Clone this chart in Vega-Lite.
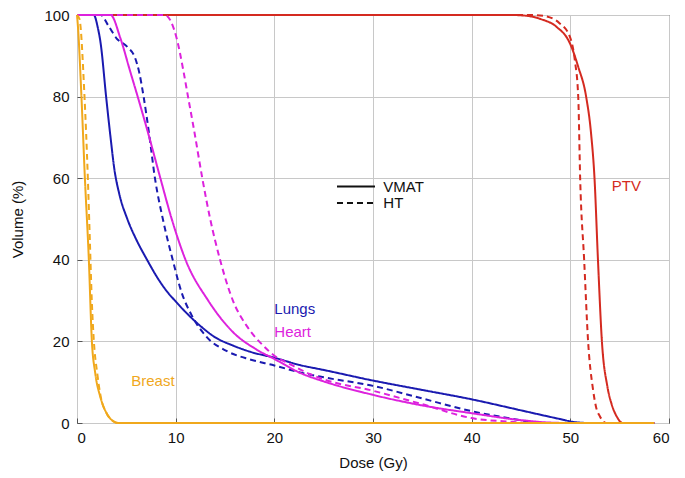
{
  "$schema": "https://vega.github.io/schema/vega-lite/v6.json",
  "width": 592,
  "height": 408,
  "autosize": {"type": "none"},
  "padding": {"left": 77, "top": 15, "right": 16, "bottom": 55},
  "background": "white",
  "config": {
    "font": "Liberation Sans",
    "view": {"stroke": "#222222", "strokeWidth": 1},
    "axis": {
      "grid": true,
      "gridColor": "#c8c8c8",
      "gridWidth": 1,
      "domain": false,
      "ticks": true,
      "tickSize": -5,
      "tickColor": "#555555",
      "labelFontSize": 15,
      "labelColor": "#111111",
      "titleFontSize": 15,
      "titleFontWeight": "normal",
      "titleColor": "#111111"
    }
  },
  "datasets": {
    "dvh": [
      {"organ": "PTV", "plan": "VMAT", "dose": 0, "volume": 100},
      {"organ": "PTV", "plan": "VMAT", "dose": 44, "volume": 100},
      {"organ": "PTV", "plan": "VMAT", "dose": 45.6, "volume": 99.8},
      {"organ": "PTV", "plan": "VMAT", "dose": 47, "volume": 99},
      {"organ": "PTV", "plan": "VMAT", "dose": 48.6, "volume": 97.1},
      {"organ": "PTV", "plan": "VMAT", "dose": 49.95, "volume": 93.1},
      {"organ": "PTV", "plan": "VMAT", "dose": 50.8, "volume": 87.3},
      {"organ": "PTV", "plan": "VMAT", "dose": 51.6, "volume": 80},
      {"organ": "PTV", "plan": "VMAT", "dose": 52.1, "volume": 71},
      {"organ": "PTV", "plan": "VMAT", "dose": 52.45, "volume": 60},
      {"organ": "PTV", "plan": "VMAT", "dose": 52.8, "volume": 40},
      {"organ": "PTV", "plan": "VMAT", "dose": 53.2, "volume": 20},
      {"organ": "PTV", "plan": "VMAT", "dose": 53.75, "volume": 9},
      {"organ": "PTV", "plan": "VMAT", "dose": 54.2, "volume": 4.5},
      {"organ": "PTV", "plan": "VMAT", "dose": 54.7, "volume": 1.6},
      {"organ": "PTV", "plan": "VMAT", "dose": 55.3, "volume": 0},
      {"organ": "PTV", "plan": "VMAT", "dose": 58.5, "volume": 0},
      {"organ": "PTV", "plan": "HT", "dose": 0, "volume": 100},
      {"organ": "PTV", "plan": "HT", "dose": 46, "volume": 100},
      {"organ": "PTV", "plan": "HT", "dose": 47.25, "volume": 99.8},
      {"organ": "PTV", "plan": "HT", "dose": 48.9, "volume": 98},
      {"organ": "PTV", "plan": "HT", "dose": 49.95, "volume": 94.7},
      {"organ": "PTV", "plan": "HT", "dose": 50.45, "volume": 89},
      {"organ": "PTV", "plan": "HT", "dose": 50.8, "volume": 80},
      {"organ": "PTV", "plan": "HT", "dose": 51.0, "volume": 59.6},
      {"organ": "PTV", "plan": "HT", "dose": 51.4, "volume": 40},
      {"organ": "PTV", "plan": "HT", "dose": 51.8, "volume": 20},
      {"organ": "PTV", "plan": "HT", "dose": 52.3, "volume": 8.2},
      {"organ": "PTV", "plan": "HT", "dose": 52.6, "volume": 4},
      {"organ": "PTV", "plan": "HT", "dose": 53.0, "volume": 1.6},
      {"organ": "PTV", "plan": "HT", "dose": 53.65, "volume": 0},
      {"organ": "PTV", "plan": "HT", "dose": 58.5, "volume": 0},
      {"organ": "Lungs", "plan": "VMAT", "dose": 0, "volume": 100},
      {"organ": "Lungs", "plan": "VMAT", "dose": 1.7, "volume": 100},
      {"organ": "Lungs", "plan": "VMAT", "dose": 2.1, "volume": 97},
      {"organ": "Lungs", "plan": "VMAT", "dose": 2.4, "volume": 93},
      {"organ": "Lungs", "plan": "VMAT", "dose": 2.95, "volume": 80},
      {"organ": "Lungs", "plan": "VMAT", "dose": 3.4, "volume": 70},
      {"organ": "Lungs", "plan": "VMAT", "dose": 3.8, "volume": 62},
      {"organ": "Lungs", "plan": "VMAT", "dose": 4.3, "volume": 56},
      {"organ": "Lungs", "plan": "VMAT", "dose": 5.1, "volume": 50},
      {"organ": "Lungs", "plan": "VMAT", "dose": 6.0, "volume": 45},
      {"organ": "Lungs", "plan": "VMAT", "dose": 7.1, "volume": 40},
      {"organ": "Lungs", "plan": "VMAT", "dose": 8.1, "volume": 35.8},
      {"organ": "Lungs", "plan": "VMAT", "dose": 9.1, "volume": 32.3},
      {"organ": "Lungs", "plan": "VMAT", "dose": 10, "volume": 29.8},
      {"organ": "Lungs", "plan": "VMAT", "dose": 11, "volume": 27.2},
      {"organ": "Lungs", "plan": "VMAT", "dose": 12.5, "volume": 23.8},
      {"organ": "Lungs", "plan": "VMAT", "dose": 14, "volume": 21},
      {"organ": "Lungs", "plan": "VMAT", "dose": 15.8, "volume": 19},
      {"organ": "Lungs", "plan": "VMAT", "dose": 17.5, "volume": 17.5},
      {"organ": "Lungs", "plan": "VMAT", "dose": 20, "volume": 16},
      {"organ": "Lungs", "plan": "VMAT", "dose": 22.6, "volume": 14.2},
      {"organ": "Lungs", "plan": "VMAT", "dose": 25, "volume": 13},
      {"organ": "Lungs", "plan": "VMAT", "dose": 30, "volume": 10.4},
      {"organ": "Lungs", "plan": "VMAT", "dose": 35, "volume": 8.1},
      {"organ": "Lungs", "plan": "VMAT", "dose": 40, "volume": 5.8},
      {"organ": "Lungs", "plan": "VMAT", "dose": 45, "volume": 3.1},
      {"organ": "Lungs", "plan": "VMAT", "dose": 48.9, "volume": 1.0},
      {"organ": "Lungs", "plan": "VMAT", "dose": 50.5, "volume": 0.2},
      {"organ": "Lungs", "plan": "VMAT", "dose": 52, "volume": 0},
      {"organ": "Lungs", "plan": "VMAT", "dose": 58.5, "volume": 0},
      {"organ": "Lungs", "plan": "HT", "dose": 0, "volume": 100},
      {"organ": "Lungs", "plan": "HT", "dose": 2.4, "volume": 100},
      {"organ": "Lungs", "plan": "HT", "dose": 3.2, "volume": 97.3},
      {"organ": "Lungs", "plan": "HT", "dose": 4.0, "volume": 94.3},
      {"organ": "Lungs", "plan": "HT", "dose": 5.1, "volume": 92.2},
      {"organ": "Lungs", "plan": "HT", "dose": 5.9, "volume": 89.4},
      {"organ": "Lungs", "plan": "HT", "dose": 6.3, "volume": 86},
      {"organ": "Lungs", "plan": "HT", "dose": 6.75, "volume": 80},
      {"organ": "Lungs", "plan": "HT", "dose": 7.3, "volume": 71},
      {"organ": "Lungs", "plan": "HT", "dose": 7.9, "volume": 60},
      {"organ": "Lungs", "plan": "HT", "dose": 8.7, "volume": 50},
      {"organ": "Lungs", "plan": "HT", "dose": 9.7, "volume": 40},
      {"organ": "Lungs", "plan": "HT", "dose": 10.6, "volume": 32},
      {"organ": "Lungs", "plan": "HT", "dose": 11.6, "volume": 26.5},
      {"organ": "Lungs", "plan": "HT", "dose": 13.1, "volume": 21.2},
      {"organ": "Lungs", "plan": "HT", "dose": 15.2, "volume": 17.6},
      {"organ": "Lungs", "plan": "HT", "dose": 17.5, "volume": 15.6},
      {"organ": "Lungs", "plan": "HT", "dose": 20, "volume": 14.1},
      {"organ": "Lungs", "plan": "HT", "dose": 22.6, "volume": 12.4},
      {"organ": "Lungs", "plan": "HT", "dose": 25, "volume": 11.2},
      {"organ": "Lungs", "plan": "HT", "dose": 30, "volume": 9.1},
      {"organ": "Lungs", "plan": "HT", "dose": 35, "volume": 6.0},
      {"organ": "Lungs", "plan": "HT", "dose": 40, "volume": 2.9},
      {"organ": "Lungs", "plan": "HT", "dose": 43.5, "volume": 1.3},
      {"organ": "Lungs", "plan": "HT", "dose": 46, "volume": 0.3},
      {"organ": "Lungs", "plan": "HT", "dose": 47.5, "volume": 0},
      {"organ": "Lungs", "plan": "HT", "dose": 58.5, "volume": 0},
      {"organ": "Heart", "plan": "VMAT", "dose": 0, "volume": 100},
      {"organ": "Heart", "plan": "VMAT", "dose": 3.4, "volume": 100},
      {"organ": "Heart", "plan": "VMAT", "dose": 4.4, "volume": 94.3},
      {"organ": "Heart", "plan": "VMAT", "dose": 5.4, "volume": 86.1},
      {"organ": "Heart", "plan": "VMAT", "dose": 6.15, "volume": 80},
      {"organ": "Heart", "plan": "VMAT", "dose": 7.1, "volume": 72},
      {"organ": "Heart", "plan": "VMAT", "dose": 8.45, "volume": 60},
      {"organ": "Heart", "plan": "VMAT", "dose": 9.6, "volume": 50},
      {"organ": "Heart", "plan": "VMAT", "dose": 11.0, "volume": 40},
      {"organ": "Heart", "plan": "VMAT", "dose": 13.3, "volume": 30},
      {"organ": "Heart", "plan": "VMAT", "dose": 15.8, "volume": 22.3},
      {"organ": "Heart", "plan": "VMAT", "dose": 18.2, "volume": 18},
      {"organ": "Heart", "plan": "VMAT", "dose": 20, "volume": 15.7},
      {"organ": "Heart", "plan": "VMAT", "dose": 22.6, "volume": 12.3},
      {"organ": "Heart", "plan": "VMAT", "dose": 25, "volume": 10.2},
      {"organ": "Heart", "plan": "VMAT", "dose": 30, "volume": 6.9},
      {"organ": "Heart", "plan": "VMAT", "dose": 35, "volume": 4.3},
      {"organ": "Heart", "plan": "VMAT", "dose": 40, "volume": 2.4},
      {"organ": "Heart", "plan": "VMAT", "dose": 45, "volume": 0.7},
      {"organ": "Heart", "plan": "VMAT", "dose": 48, "volume": 0.1},
      {"organ": "Heart", "plan": "VMAT", "dose": 50, "volume": 0},
      {"organ": "Heart", "plan": "VMAT", "dose": 58.5, "volume": 0},
      {"organ": "Heart", "plan": "HT", "dose": 0, "volume": 100},
      {"organ": "Heart", "plan": "HT", "dose": 8.9, "volume": 100},
      {"organ": "Heart", "plan": "HT", "dose": 10.1, "volume": 94.3},
      {"organ": "Heart", "plan": "HT", "dose": 10.8, "volume": 86.1},
      {"organ": "Heart", "plan": "HT", "dose": 11.25, "volume": 80},
      {"organ": "Heart", "plan": "HT", "dose": 11.85, "volume": 72},
      {"organ": "Heart", "plan": "HT", "dose": 12.7, "volume": 60},
      {"organ": "Heart", "plan": "HT", "dose": 13.5, "volume": 50},
      {"organ": "Heart", "plan": "HT", "dose": 14.5, "volume": 40},
      {"organ": "Heart", "plan": "HT", "dose": 15.8, "volume": 30},
      {"organ": "Heart", "plan": "HT", "dose": 17.2, "volume": 23.8},
      {"organ": "Heart", "plan": "HT", "dose": 18.9, "volume": 18.9},
      {"organ": "Heart", "plan": "HT", "dose": 20, "volume": 16.5},
      {"organ": "Heart", "plan": "HT", "dose": 21.6, "volume": 14.4},
      {"organ": "Heart", "plan": "HT", "dose": 23.6, "volume": 12.0},
      {"organ": "Heart", "plan": "HT", "dose": 25, "volume": 10.7},
      {"organ": "Heart", "plan": "HT", "dose": 30, "volume": 7.9},
      {"organ": "Heart", "plan": "HT", "dose": 35, "volume": 4.6},
      {"organ": "Heart", "plan": "HT", "dose": 40, "volume": 1.2},
      {"organ": "Heart", "plan": "HT", "dose": 44, "volume": 0.3},
      {"organ": "Heart", "plan": "HT", "dose": 46, "volume": 0},
      {"organ": "Heart", "plan": "HT", "dose": 58.5, "volume": 0},
      {"organ": "Breast", "plan": "VMAT", "dose": 0, "volume": 100},
      {"organ": "Breast", "plan": "VMAT", "dose": 0.1, "volume": 97},
      {"organ": "Breast", "plan": "VMAT", "dose": 0.45, "volume": 80},
      {"organ": "Breast", "plan": "VMAT", "dose": 0.8, "volume": 60},
      {"organ": "Breast", "plan": "VMAT", "dose": 1.2, "volume": 40},
      {"organ": "Breast", "plan": "VMAT", "dose": 1.5, "volume": 20.4},
      {"organ": "Breast", "plan": "VMAT", "dose": 1.85, "volume": 12.2},
      {"organ": "Breast", "plan": "VMAT", "dose": 2.35, "volume": 6.5},
      {"organ": "Breast", "plan": "VMAT", "dose": 3.0, "volume": 2.4},
      {"organ": "Breast", "plan": "VMAT", "dose": 3.7, "volume": 0.4},
      {"organ": "Breast", "plan": "VMAT", "dose": 4.2, "volume": 0},
      {"organ": "Breast", "plan": "VMAT", "dose": 58.5, "volume": 0},
      {"organ": "Breast", "plan": "HT", "dose": 0, "volume": 100},
      {"organ": "Breast", "plan": "HT", "dose": 0.25, "volume": 99},
      {"organ": "Breast", "plan": "HT", "dose": 0.76, "volume": 80},
      {"organ": "Breast", "plan": "HT", "dose": 1.1, "volume": 60},
      {"organ": "Breast", "plan": "HT", "dose": 1.3, "volume": 45},
      {"organ": "Breast", "plan": "HT", "dose": 1.5, "volume": 30},
      {"organ": "Breast", "plan": "HT", "dose": 1.7, "volume": 20.4},
      {"organ": "Breast", "plan": "HT", "dose": 2.05, "volume": 12.2},
      {"organ": "Breast", "plan": "HT", "dose": 2.4, "volume": 6.5},
      {"organ": "Breast", "plan": "HT", "dose": 3.0, "volume": 2.4},
      {"organ": "Breast", "plan": "HT", "dose": 3.7, "volume": 0.4},
      {"organ": "Breast", "plan": "HT", "dose": 4.2, "volume": 0},
      {"organ": "Breast", "plan": "HT", "dose": 58.5, "volume": 0}
    ],
    "labels": [
      {"label": "PTV", "organ": "PTV", "dose": 54.2, "volume": 58.2},
      {"label": "Lungs", "organ": "Lungs", "dose": 20.0, "volume": 27.9},
      {"label": "Heart", "organ": "Heart", "dose": 20.0, "volume": 22.2},
      {"label": "Breast", "organ": "Breast", "dose": 5.5, "volume": 10.2}
    ],
    "key": [
      {"plan": "VMAT", "start": 26.35, "end": 30.2, "volume": 57.95, "textDose": 31.05},
      {"plan": "HT", "start": 26.35, "end": 30.2, "volume": 53.9, "textDose": 31.05}
    ]
  },
  "layer": [
    {
      "data": {"name": "dvh"},
      "mark": {"type": "line", "strokeWidth": 2, "interpolate": "monotone"},
      "encoding": {
        "x": {
          "field": "dose",
          "type": "quantitative",
          "scale": {"domain": [0, 60], "nice": false},
          "axis": {"title": "Dose (Gy)", "values": [0, 10, 20, 30, 40, 50, 60], "titlePadding": 10, "labelPadding": 12}
        },
        "y": {
          "field": "volume",
          "type": "quantitative",
          "scale": {"domain": [0, 100], "nice": false},
          "axis": {"title": "Volume (%)", "values": [0, 20, 40, 60, 80, 100], "titlePadding": 18, "labelPadding": 13}
        },
        "color": {
          "field": "organ",
          "type": "nominal",
          "scale": {"domain": ["PTV", "Lungs", "Heart", "Breast"], "range": ["#d42a20", "#1a1ab0", "#dd22dd", "#f0a81c"]},
          "legend": null
        },
        "strokeDash": {
          "field": "plan",
          "type": "nominal",
          "scale": {"domain": ["VMAT", "HT"], "range": [[1, 0], [6, 4]]},
          "legend": null
        }
      }
    },
    {
      "data": {"name": "labels"},
      "mark": {"type": "text", "align": "left", "baseline": "middle", "fontSize": 15},
      "encoding": {
        "x": {"field": "dose", "type": "quantitative"},
        "y": {"field": "volume", "type": "quantitative"},
        "text": {"field": "label"},
        "color": {"field": "organ", "type": "nominal", "legend": null}
      }
    },
    {
      "data": {"name": "key"},
      "mark": {"type": "rule", "strokeWidth": 2, "color": "#111111"},
      "encoding": {
        "x": {"field": "start", "type": "quantitative"},
        "x2": {"field": "end"},
        "y": {"field": "volume", "type": "quantitative"},
        "strokeDash": {"field": "plan", "type": "nominal", "legend": null}
      }
    },
    {
      "data": {"name": "key"},
      "mark": {"type": "text", "align": "left", "baseline": "middle", "fontSize": 15, "color": "#111111"},
      "encoding": {
        "x": {"field": "textDose", "type": "quantitative"},
        "y": {"field": "volume", "type": "quantitative"},
        "text": {"field": "plan"}
      }
    }
  ]
}
